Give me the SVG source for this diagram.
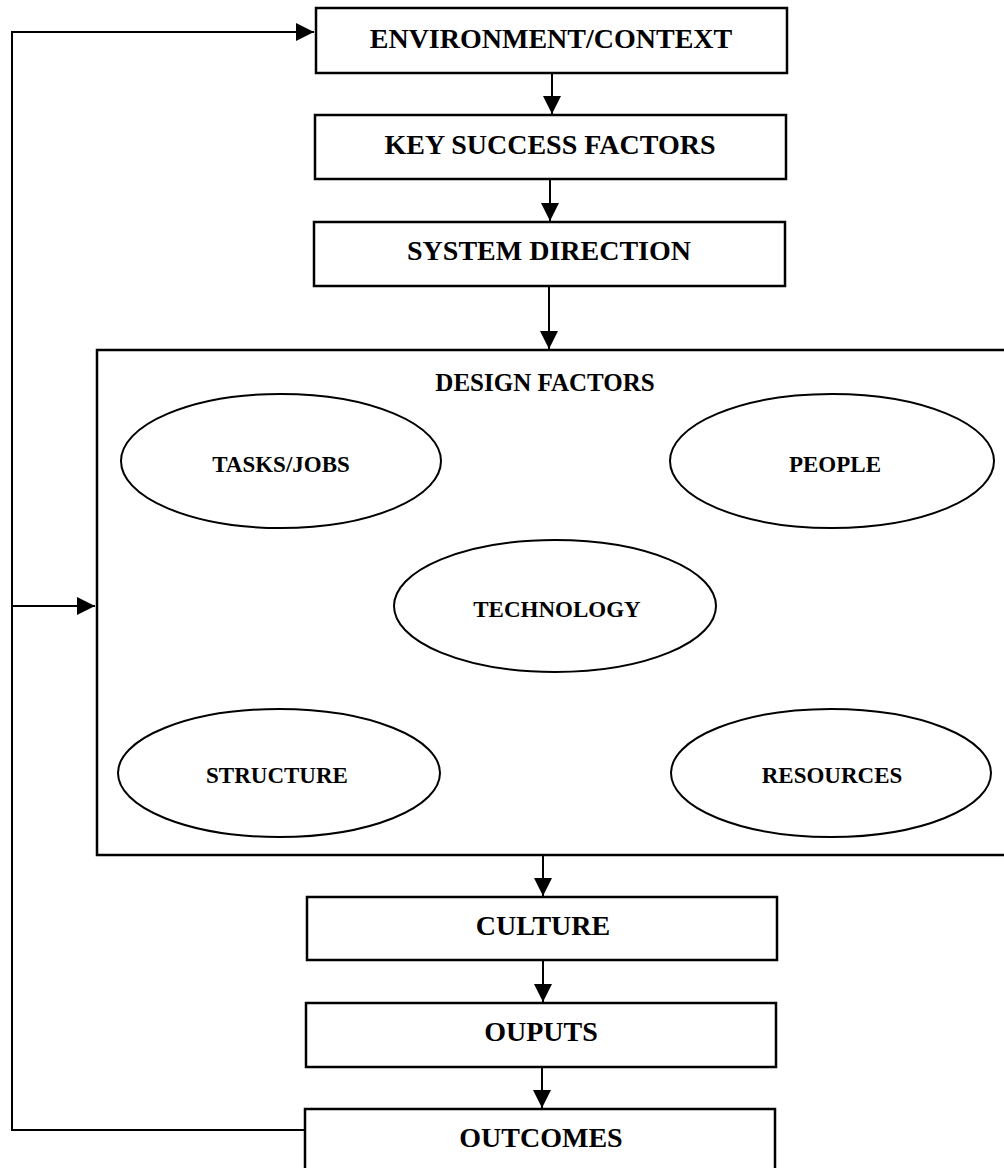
<svg xmlns="http://www.w3.org/2000/svg" width="1004" height="1168" viewBox="0 0 1004 1168">
<style>
.box{fill:#fff;stroke:#000;stroke-width:2.5}
.ell{fill:#fff;stroke:#000;stroke-width:2}
.lbl{font-family:"Liberation Serif","Times New Roman",serif;font-weight:bold;font-size:28px;text-anchor:middle;fill:#000}
.sm{font-size:23px}
.con{fill:none;stroke:#000;stroke-width:2}
</style>
<defs>
<marker id="ah" markerUnits="userSpaceOnUse" markerWidth="18" markerHeight="18" viewBox="0 0 18 18" refX="18" refY="9" orient="auto">
<path d="M0,0 L18,9 L0,18 Z" fill="#000"/>
</marker>
</defs>
<rect width="1004" height="1168" fill="#fff"/>
<g id="connectors">
<path class="con" d="M306,1130 L12,1130 L12,32 L314,32" marker-end="url(#ah)"/>
<path class="con" d="M12,606 L95,606" marker-end="url(#ah)"/>
<path class="con" d="M552,73 L552,114" marker-end="url(#ah)"/>
<path class="con" d="M550,179 L550,221" marker-end="url(#ah)"/>
<path class="con" d="M549,286 L549,349" marker-end="url(#ah)"/>
<path class="con" d="M543,855 L543,896" marker-end="url(#ah)"/>
<path class="con" d="M543,960 L543,1002" marker-end="url(#ah)"/>
<path class="con" d="M542,1067 L542,1108" marker-end="url(#ah)"/>
</g>
<g id="environment">
<rect class="box" x="316" y="8" width="471" height="65"/>
<text class="lbl" x="551" y="48">ENVIRONMENT/CONTEXT</text>
</g>
<g id="key-success-factors">
<rect class="box" x="315" y="115" width="471" height="64"/>
<text class="lbl" x="550" y="154">KEY SUCCESS FACTORS</text>
</g>
<g id="system-direction">
<rect class="box" x="314" y="222" width="471" height="64"/>
<text class="lbl" x="549" y="260">SYSTEM DIRECTION</text>
</g>
<g id="design-factors">
<rect class="box" x="97" y="350" width="915" height="505"/>
<text class="lbl" x="545" y="391" style="font-size:25px">DESIGN FACTORS</text>
</g>
<g id="tasks-jobs">
<ellipse class="ell" cx="281" cy="461" rx="160" ry="67"/>
<text class="lbl sm" x="281" y="472">TASKS/JOBS</text>
</g>
<g id="people">
<ellipse class="ell" cx="832" cy="461" rx="162" ry="67"/>
<text class="lbl sm" x="835" y="472">PEOPLE</text>
</g>
<g id="technology">
<ellipse class="ell" cx="555" cy="606" rx="161" ry="66"/>
<text class="lbl sm" x="557" y="617">TECHNOLOGY</text>
</g>
<g id="structure">
<ellipse class="ell" cx="279" cy="773" rx="161" ry="64"/>
<text class="lbl sm" x="277" y="783">STRUCTURE</text>
</g>
<g id="resources">
<ellipse class="ell" cx="831" cy="773" rx="160" ry="64"/>
<text class="lbl sm" x="832" y="783">RESOURCES</text>
</g>
<g id="culture">
<rect class="box" x="307" y="897" width="470" height="63"/>
<text class="lbl" x="543" y="935">CULTURE</text>
</g>
<g id="outputs">
<rect class="box" x="306" y="1003" width="470" height="64"/>
<text class="lbl" x="541" y="1041">OUPUTS</text>
</g>
<g id="outcomes">
<rect class="box" x="305" y="1109" width="470" height="80"/>
<text class="lbl" x="541" y="1147">OUTCOMES</text>
</g>
</svg>
